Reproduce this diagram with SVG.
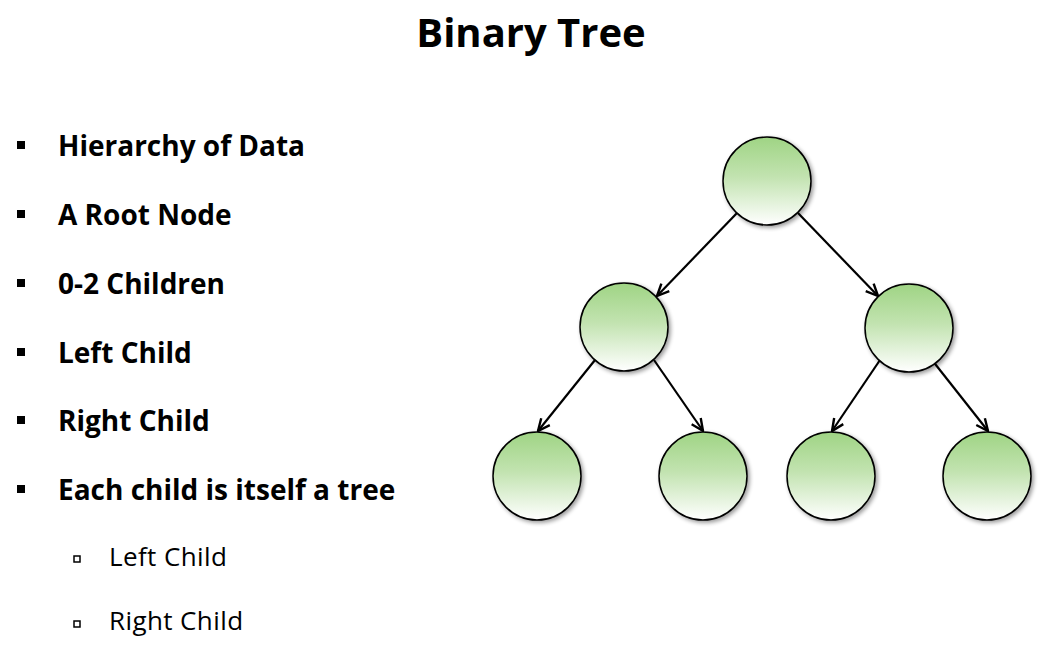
<svg xmlns="http://www.w3.org/2000/svg" width="1048" height="666" viewBox="0 0 1048 666">
<style>
.t{font-family:"Open Sans","Noto Sans","Liberation Sans",sans-serif;fill:#000}
.b{font-size:28px;font-weight:bold;letter-spacing:0px}
.s{font-size:26px;letter-spacing:0.4px}
.n{fill:url(#g);stroke:#000;stroke-width:1.5}
.e{stroke:#000;stroke-width:2.2;fill:none;marker-end:url(#a)}
</style>
<defs>
<linearGradient id="g" x1="0" y1="0" x2="0" y2="1">
<stop offset="0" stop-color="#9fd484"/>
<stop offset="0.45" stop-color="#c2e3b0"/>
<stop offset="1" stop-color="#ffffff"/>
</linearGradient>
<filter id="sh" x="-20%" y="-20%" width="150%" height="150%">
<feGaussianBlur in="SourceAlpha" stdDeviation="2"/>
<feOffset dx="2" dy="2" result="o"/>
<feComponentTransfer><feFuncA type="linear" slope="0.4"/></feComponentTransfer>
<feMerge><feMergeNode/><feMergeNode in="SourceGraphic"/></feMerge>
</filter>
<marker id="a" viewBox="0 0 14 14" refX="13" refY="7" markerWidth="14" markerHeight="14" markerUnits="userSpaceOnUse" orient="auto">
<path d="M1,1.5 L13,7 L1,12.5" fill="none" stroke="#000" stroke-width="2.4"/>
</marker>
</defs>
<rect width="1048" height="666" fill="#fff"/>
<text class="t" x="531" y="47" text-anchor="middle" font-size="40" font-weight="bold" letter-spacing="0">Binary Tree</text>
<g id="bullets">
<rect x="17" y="141" width="8" height="8" fill="#000"/>
<text class="t b" x="58" y="156">Hierarchy of Data</text>
<rect x="17" y="210" width="8" height="8" fill="#000"/>
<text class="t b" x="58" y="225">A Root Node</text>
<rect x="17" y="279" width="8" height="8" fill="#000"/>
<text class="t b" x="58" y="294">0-2 Children</text>
<rect x="17" y="348" width="8" height="8" fill="#000"/>
<text class="t b" x="58" y="363">Left Child</text>
<rect x="17" y="416" width="8" height="8" fill="#000"/>
<text class="t b" x="58" y="431">Right Child</text>
<rect x="17" y="485" width="8" height="8" fill="#000"/>
<text class="t b" x="58" y="500">Each child is itself a tree</text>
<rect x="74" y="556" width="6" height="6" fill="none" stroke="#000" stroke-width="1.5"/>
<text class="t s" x="109" y="566">Left Child</text>
<rect x="74" y="621" width="6" height="6" fill="none" stroke="#000" stroke-width="1.5"/>
<text class="t s" x="109" y="630">Right Child</text>
</g>
<g id="connectors">
<line class="e" x1="737" y1="213" x2="657" y2="296"/>
<line class="e" x1="798" y1="213" x2="878" y2="296"/>
<line class="e" x1="595" y1="360" x2="538" y2="431"/>
<line class="e" x1="654" y1="360" x2="703" y2="431"/>
<line class="e" x1="880" y1="360" x2="832" y2="431"/>
<line class="e" x1="932" y1="360" x2="988" y2="431"/>
</g>
<g id="root" filter="url(#sh)"><circle class="n" cx="767" cy="181" r="44"/></g>
<g id="left" filter="url(#sh)"><circle class="n" cx="624" cy="327" r="44"/></g>
<g id="right" filter="url(#sh)"><circle class="n" cx="909" cy="328" r="44"/></g>
<g id="ll" filter="url(#sh)"><circle class="n" cx="537" cy="476" r="44"/></g>
<g id="lr" filter="url(#sh)"><circle class="n" cx="703" cy="476" r="44"/></g>
<g id="rl" filter="url(#sh)"><circle class="n" cx="831" cy="476" r="44"/></g>
<g id="rr" filter="url(#sh)"><circle class="n" cx="987" cy="476" r="44"/></g>
</svg>
